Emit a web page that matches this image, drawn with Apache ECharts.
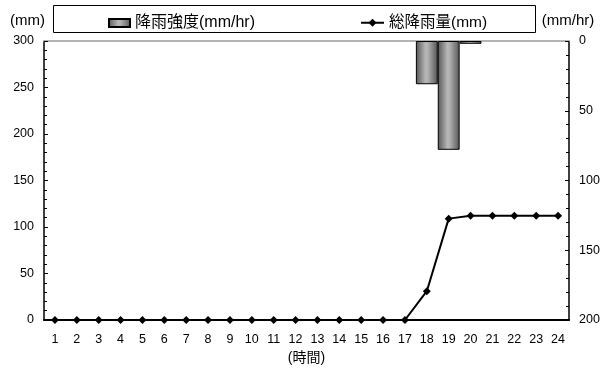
<!DOCTYPE html>
<html><head><meta charset="utf-8">
<script src="https://cdn.jsdelivr.net/npm/echarts@6/dist/echarts.min.js"></script>
<style>html,body{margin:0;padding:0;background:#fff}#c{width:610px;height:370px}</style>
</head><body><div id="c"></div>
<script>
const hours = ['1','2','3','4','5','6','7','8','9','10','11','12','13','14','15','16','17','18','19','20','21','22','23','24'];
const intensity = [null,null,null,null,null,null,null,null,null,null,null,null,null,null,null,null,null,31,78,2,null,null,null,null];
const totalRain = [0,0,0,0,0,0,0,0,0,0,0,0,0,0,0,0,0,31,109,112,112,112,112,112];
const leftTicks = {min:0, max:300, interval:50};
const rightTicks = {min:0, max:200, interval:50};

const FONT = '"Liberation Sans", Arial, "Noto Sans CJK JP", sans-serif';
const chart = echarts.init(document.getElementById('c'));
const barGrad = new echarts.graphic.LinearGradient(0,0,1,0,[
  {offset:0,color:'#555'},{offset:0.45,color:'#b8b8b8'},{offset:0.55,color:'#b0b0b0'},{offset:1,color:'#555'}]);
chart.setOption({
  animation:false,
  textStyle:{fontFamily:FONT},
  graphic:[{type:'rect',shape:{x:53.5,y:5.5,width:482,height:27},style:{fill:'#fff',stroke:'#000',lineWidth:1},z:-1}],
  legend:[
    {data:[{name:'降雨強度(mm/hr)',icon:'rect'}],left:103,top:10,itemWidth:21,itemHeight:8,
     textStyle:{fontFamily:FONT,fontSize:16,color:'#000'}},
    {data:['総降雨量(mm)'],left:355,top:10,itemWidth:23,itemHeight:10,
     textStyle:{fontFamily:FONT,fontSize:15.5,color:'#000'}}
  ],
  grid:{left:44,right:41,top:41,bottom:48},
  xAxis:[{
    type:'category',data:hours,boundaryGap:true,
    axisLine:{lineStyle:{color:'#000',width:2}},
    axisTick:{inside:true,length:4,lineStyle:{color:'#000'}},
    axisLabel:{color:'#000',fontSize:12.5,fontFamily:FONT,margin:13},
    name:'(時間)',nameLocation:'middle',nameGap:31,
    nameTextStyle:{color:'#000',fontSize:14,fontFamily:FONT}
  },{
    type:'category',data:hours,position:'top',
    axisLine:{lineStyle:{color:'#b4b4b4',width:2}},
    axisTick:{show:false},axisLabel:{show:false}
  }],
  yAxis:[{
    type:'value',min:leftTicks.min,max:leftTicks.max,interval:leftTicks.interval,
    name:'(mm)',nameLocation:'end',nameGap:13,
    nameTextStyle:{color:'#000',fontSize:15,fontFamily:FONT,align:'right',padding:[0,-1,0,0]},
    axisLine:{show:true,lineStyle:{color:'#000',width:1.5}},
    axisTick:{show:true,inside:true,length:4,lineStyle:{color:'#000'}},
    minorTick:{show:true,splitNumber:5,length:3,lineStyle:{color:'#000'}},
    splitLine:{show:false},
    axisLabel:{color:'#000',fontSize:12.5,fontFamily:FONT,margin:10}
  },{
    type:'value',min:rightTicks.min,max:rightTicks.max,interval:rightTicks.interval,inverse:true,
    position:'right',
    name:'(mm/hr)',nameLocation:'start',nameGap:13,
    nameTextStyle:{color:'#000',fontSize:15,fontFamily:FONT,align:'center',padding:[0,0,0,-2]},
    axisLine:{show:true,lineStyle:{color:'#000',width:1.5}},
    axisTick:{show:true,inside:true,length:4,lineStyle:{color:'#000'}},
    minorTick:{show:true,splitNumber:5,length:3,lineStyle:{color:'#000'}},
    splitLine:{show:false},
    axisLabel:{color:'#000',fontSize:12.5,fontFamily:FONT,margin:10}
  }],
  series:[{
    name:'降雨強度(mm/hr)',type:'bar',yAxisIndex:1,data:intensity,
    barWidth:'100%',barGap:'0%',
    itemStyle:{color:barGrad,borderColor:'#000',borderWidth:1}
  },{
    name:'総降雨量(mm)',type:'line',yAxisIndex:0,data:totalRain,
    symbol:'diamond',symbolSize:8,
    lineStyle:{color:'#000',width:2},
    itemStyle:{color:'#000'},z:5
  }]
});
</script></body></html>
